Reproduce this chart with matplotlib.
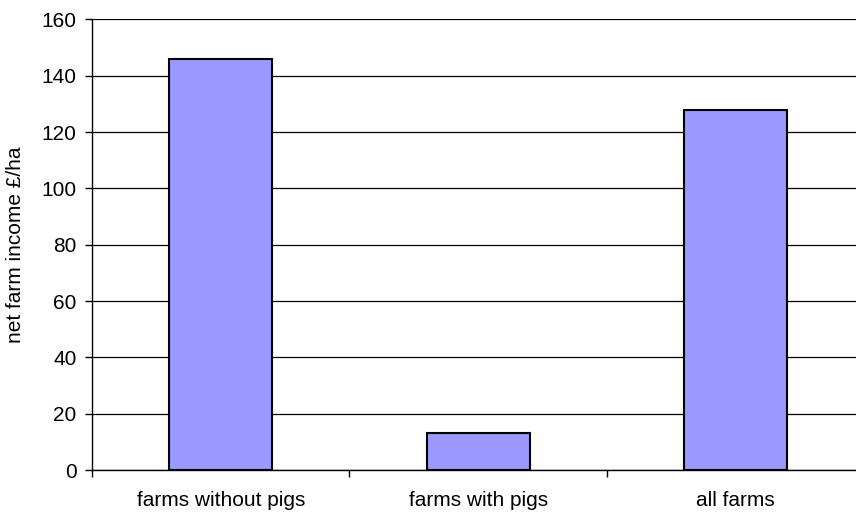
import matplotlib
matplotlib.use("Agg")
import matplotlib.pyplot as plt
import numpy as np

# net farm income per hectare by farm group
categories = ["farms without pigs", "farms with pigs", "all farms"]
income = [146, 13, 128]
y_ticks = [0, 20, 40, 60, 80, 100, 120, 140, 160]

plt.rcParams["font.family"] = ["Liberation Sans", "DejaVu Sans"]

fig = plt.figure(figsize=(8.56, 5.12), dpi=100)
# the plot area runs slightly past the right edge of the figure
ax = fig.add_axes([0.1075, 0.082, 0.902, 0.88])

x = np.arange(len(categories))
ax.bar(x, income, width=0.4, color="#9999FF", edgecolor="black", linewidth=1.5, zorder=3)

ax.set_xlim(-0.5, len(categories) - 0.5)
ax.set_ylim(0, 160)
ax.set_yticks(y_ticks)
ax.yaxis.grid(True, color="black", linewidth=0.9, zorder=0)

# category ticks sit on the boundaries between groups
ax.set_xticks(x)
ax.set_xticklabels(categories, fontsize=15)
ax.tick_params(axis="x", length=0, pad=15)
ax.set_xticks(np.arange(len(categories) + 1) - 0.5, minor=True)
ax.tick_params(axis="x", which="minor", length=5, width=1, direction="out")
ax.tick_params(axis="y", labelsize=15, length=5, width=1, direction="out", pad=6)

for side in ["top", "right"]:
    ax.spines[side].set_visible(False)
ax.spines["left"].set_linewidth(1)
ax.spines["bottom"].set_linewidth(1)

ax.set_ylabel("net farm income £/ha", fontsize=15)
ax.yaxis.set_label_coords(-0.087, 0.5)

fig.savefig("out.png", dpi=100)
